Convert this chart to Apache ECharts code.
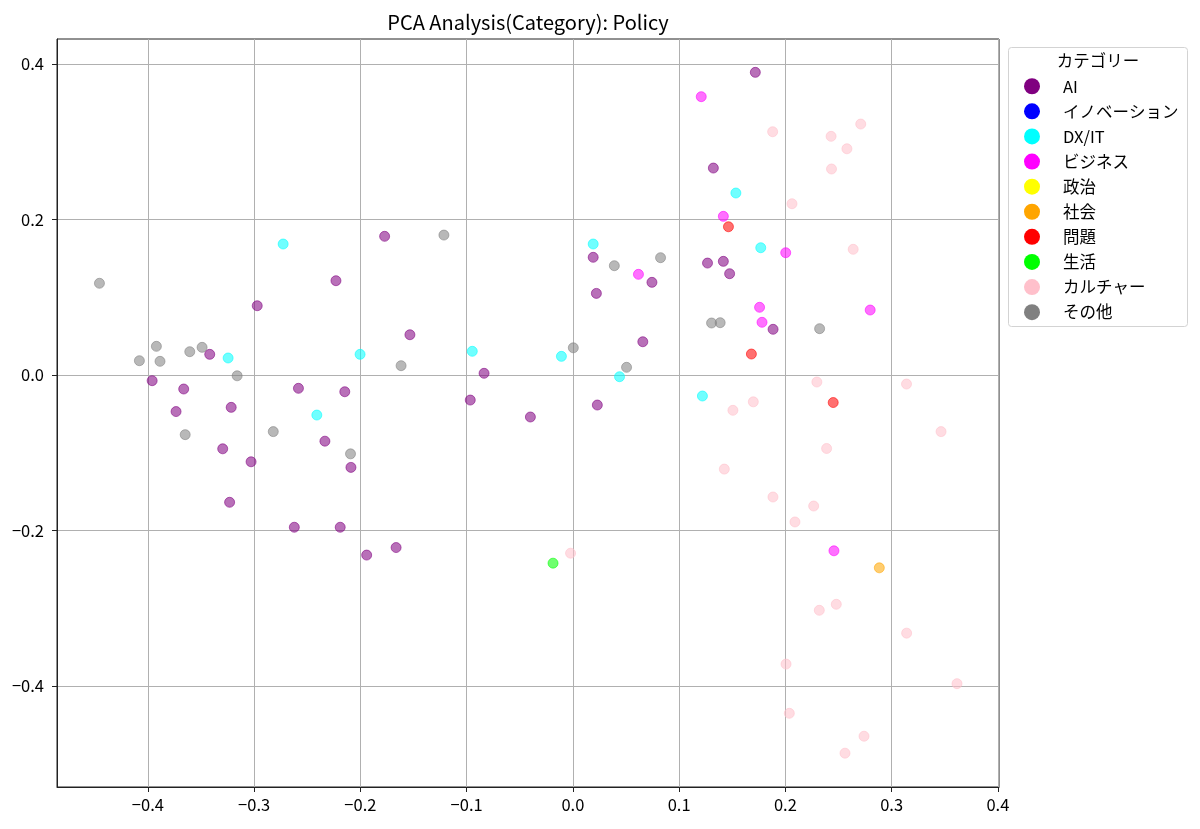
<!DOCTYPE html>
<html>
<head>
<meta charset="utf-8">
<title>PCA Analysis(Category): Policy</title>
<script src="https://cdn.jsdelivr.net/npm/echarts@6/dist/echarts.min.js"></script>
<style>
  html, body { margin: 0; padding: 0; background: #fff; }
  #chart { width: 1200px; height: 829px; }
</style>
</head>
<body>
<div id="chart"></div>
<script>
// categories in legend order, with their matplotlib colours
const categories = ['AI', 'イノベーション', 'DX/IT', 'ビジネス', '政治', '社会', '問題', '生活', 'カルチャー', 'その他']
const colors = ['#800080', '#0000ff', '#00ffff', '#ff00ff', '#ffff00', '#ffa500', '#ff0000', '#00ff00', '#ffc0cb', '#808080']

// PC1 / PC2 per category
const aiPoints = [
  [-0.396, -0.0073], [-0.3663, -0.018], [-0.3735, -0.047], [-0.3418, 0.0266],
  [-0.3216, -0.0416], [-0.2971, 0.0891], [-0.2583, -0.0171], [-0.223, 0.1213],
  [-0.2147, -0.0215], [-0.1772, 0.1784], [-0.1534, 0.0518], [-0.0836, 0.0022],
  [-0.0966, -0.0322], [-0.040, -0.054], [0.0191, 0.1514], [0.0221, 0.105],
  [0.0230, -0.0386], [-0.3296, -0.0949], [-0.3029, -0.1116], [-0.2334, -0.0851],
  [-0.2089, -0.1188], [-0.3231, -0.1637], [-0.2622, -0.1958], [-0.219, -0.1958],
  [-0.1941, -0.2316], [-0.1664, -0.2219], [0.1717, 0.3893], [0.1322, 0.2662],
  [0.0744, 0.1192], [0.1267, 0.144], [0.1416, 0.1462], [0.1475, 0.1303],
  [0.1884, 0.0588], [0.0658, 0.0428]
]
const innovationPoints = []
const dxitPoints = [
  [-0.2727, 0.1685], [-0.3245, 0.0219], [-0.2003, 0.0266], [-0.241, -0.0515],
  [-0.0947, 0.0305], [-0.0108, 0.024], [0.0191, 0.1685], [0.1534, 0.2341],
  [0.1768, 0.1637], [0.0439, -0.0022], [0.1219, -0.027]
]
const businessPoints = [
  [0.1208, 0.358], [0.1416, 0.2041], [0.2003, 0.1573], [0.0617, 0.1295],
  [0.1757, 0.0871], [0.178, 0.0678], [0.2798, 0.0836], [0.2457, -0.2261]
]
const politicsPoints = []
const societyPoints = [[0.2884, -0.248]]
const issuePoints = [[0.1464, 0.1907], [0.168, 0.027], [0.2450, -0.0354]]
const lifePoints = [[-0.0187, -0.242]]
const culturePoints = [
  [0.188, 0.3129], [0.2709, 0.3228], [0.243, 0.307], [0.2579, 0.291],
  [0.2434, 0.265], [0.2062, 0.2203], [0.2638, 0.1617], [0.2296, -0.009],
  [0.314, -0.0116], [0.1698, -0.0345], [0.1506, -0.0454], [0.3465, -0.0728],
  [0.2388, -0.0945], [0.1425, -0.121], [0.1883, -0.1569], [0.2266, -0.1685],
  [0.209, -0.189], [0.2479, -0.2949], [0.2319, -0.3026], [0.3141, -0.332],
  [0.2006, -0.3718], [0.3615, -0.397], [0.2037, -0.4351], [0.274, -0.4646],
  [0.2561, -0.4864], [-0.0022, -0.2292]
]
const otherPoints = [
  [-0.4456, 0.118], [-0.408, 0.0184], [-0.392, 0.0369], [-0.3886, 0.0176],
  [-0.3606, 0.030], [-0.349, 0.0356], [-0.316, -0.001], [-0.1617, 0.012],
  [-0.1214, 0.180], [0.0004, 0.035], [-0.3649, -0.0767], [-0.282, -0.0728],
  [-0.2093, -0.1014], [0.039, 0.1406], [0.0825, 0.1509], [0.1305, 0.0669],
  [0.1386, 0.0673], [0.2322, 0.0596], [0.0505, 0.0099]
]
const pointsByCategory = [
  aiPoints, innovationPoints, dxitPoints, businessPoints, politicsPoints,
  societyPoints, issuePoints, lifePoints, culturePoints, otherPoints
]

// tick labels
const xTicks = [-0.4, -0.3, -0.2, -0.1, 0.0, 0.1, 0.2, 0.3, 0.4]
const yTicks = [-0.4, -0.2, 0.0, 0.2, 0.4]

const FONT = "'Noto Sans CJK JP', 'Noto Sans', sans-serif"

function rgba(hex, a) {
  const n = parseInt(hex.slice(1), 16)
  return `rgba(${(n >> 16) & 255},${(n >> 8) & 255},${n & 255},${a})`
}
function fmtTick(v) {
  return Number(v).toFixed(1).replace('-', '\u2212')
}

const chart = echarts.init(document.getElementById('chart'), null, { renderer: 'canvas' })

// empty full-colour series come first so the legend takes its icons from them
// (matplotlib's legend handles are opaque, the points are alpha 0.7)
const legendSeries = categories.map((name, i) => ({
  name,
  type: 'scatter',
  data: [],
  itemStyle: { color: colors[i], borderWidth: 0 }
}))
const pointSeries = categories.map((name, i) => ({
  name,
  type: 'scatter',
  symbol: 'circle',
  symbolSize: 10,
  data: pointsByCategory[i],
  itemStyle: {
    color: rgba(colors[i], 0.7),
    borderColor: rgba(colors[i], 0.7),
    borderWidth: 1
  },
  emphasis: { disabled: true },
  z: 3
}))

function valueAxis(min, max, splitNumber, ticks, isX) {
  return {
    type: 'value',
    min,
    max,
    splitNumber,
    axisLine: { show: true, onZero: false, lineStyle: { color: '#222', width: 1 } },
    axisTick: {
      show: true,
      inside: false,
      length: 5,
      customValues: ticks,
      lineStyle: { color: '#222', width: 1 }
    },
    axisLabel: {
      customValues: ticks,
      formatter: fmtTick,
      color: '#000',
      fontFamily: FONT,
      fontSize: 16.5,
      margin: isX ? 9 : 13
    },
    splitLine: { show: true, lineStyle: { color: '#b0b0b0', width: 1 } }
  }
}

const option = {
  backgroundColor: '#fff',
  animation: false,
  textStyle: { fontFamily: FONT },
  grid: {
    left: 57,
    right: 201,
    top: 39,
    bottom: 42,
    show: true,
    borderColor: '#222',
    borderWidth: 1,
    backgroundColor: 'transparent'
  },
  xAxis: valueAxis(-0.48555, 0.40104, 9, xTicks, true),
  yAxis: valueAxis(-0.5299, 0.4322, 5, yTicks, false),
  legend: {
    orient: 'vertical',
    left: 1024,
    top: 78,
    padding: 0,
    itemWidth: 16,
    itemHeight: 16,
    itemGap: 8.6,
    icon: 'circle',
    selectedMode: false,
    data: categories.map((name, i) => ({ name, itemStyle: { color: colors[i], borderWidth: 0, opacity: 1 } })),
    textStyle: {
      color: '#000',
      fontFamily: FONT,
      fontSize: 16.5,
      padding: [0, 0, 0, 18]
    }
  },
  graphic: [
    {
      type: 'rect',
      z: -1,
      shape: { x: 1008.5, y: 47.5, width: 179, height: 279, r: 3 },
      style: { fill: 'rgba(255,255,255,0.8)', stroke: '#d3d3d3', lineWidth: 1 }
    },
    {
      type: 'text',
      x: 1098,
      y: 61,
      style: {
        text: 'カテゴリー',
        align: 'center',
        verticalAlign: 'middle',
        fill: '#000',
        fontFamily: FONT,
        fontSize: 16.5
      }
    },
    {
      type: 'text',
      x: 528,
      y: 22,
      style: {
        text: 'PCA Analysis(Category): Policy',
        align: 'center',
        verticalAlign: 'middle',
        fill: '#000',
        fontFamily: FONT,
        fontSize: 20
      }
    }
  ],
  series: legendSeries.concat(pointSeries)
}

chart.setOption(option)
</script>
</body>
</html>
